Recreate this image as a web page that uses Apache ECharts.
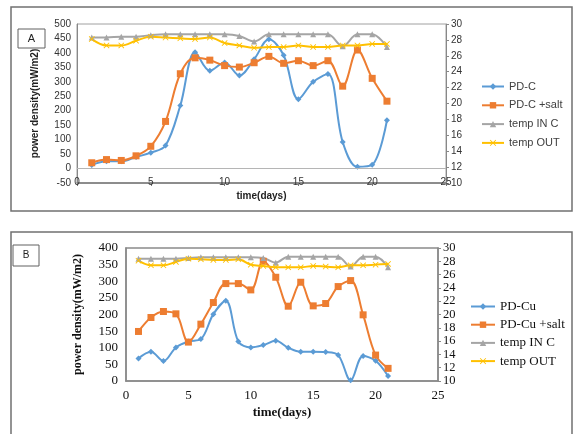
<!DOCTYPE html>
<html>
<head>
<meta charset="utf-8">
<script src="https://cdn.jsdelivr.net/npm/echarts@6/dist/echarts.min.js"></script>
<style>
html,body{margin:0;padding:0;background:#fff;}
#main{width:573px;height:434px;}
</style>
</head>
<body>
<div id="main"></div>
<script>
//数据
var days = [1,2,3,4,5,6,7,8,9,10,11,12,13,14,15,16,17,18,19,20,21];
// A
var pdC      = [12,25,25,40,55,80,218,402,338,367,322,378,447,392,240,300,327,92,6,13,167];
var pdCSalt  = [20,31,28,44,77,163,328,383,375,356,351,366,388,364,373,356,373,285,410,312,233];
var tempInA  = [28.3,28.3,28.4,28.4,28.6,28.7,28.7,28.7,28.7,28.7,28.5,27.8,28.7,28.7,28.7,28.7,28.7,27.2,28.7,28.7,27.1];
var tempOutA = [28.1,27.3,27.3,27.9,28.4,28.3,28.2,28.1,28.3,27.6,27.3,27.0,27.1,27.1,27.3,27.1,27.1,27.3,27.3,27.5,27.5];
// B
var pdCu     = [68,88,60,101,119,126,201,241,119,101,108,121,100,88,88,87,78,2,75,61,15];
var pdCuSalt = [149,191,209,202,117,171,236,293,293,274,360,312,225,297,226,233,284,302,199,78,38];
var tempInB  = [28.4,28.4,28.4,28.4,28.5,28.6,28.6,28.6,28.6,28.6,28.5,27.8,28.7,28.7,28.7,28.7,28.7,27.2,28.7,28.7,27.1];
var tempOutB = [28.1,27.4,27.4,27.9,28.4,28.3,28.2,28.2,28.3,27.5,27.3,27.1,27.1,27.1,27.3,27.2,27.1,27.4,27.4,27.5,27.6];

var namesA = ['PD-C','PD-C +salt','temp IN C','temp OUT'];
var namesB = ['PD-Cu','PD-Cu +salt','temp IN C','temp OUT'];

var colBlue = '#5B9BD5', colOrange = '#ED7D31', colGray = '#A5A5A5', colYellow = '#FFC000';
var crossSym = 'path://M0,1L1,0L5,4L9,0L10,1L6,5L10,9L9,10L5,6L1,10L0,9L4,5Z';
var sansFont = '"Liberation Sans", Arial, sans-serif';
var serifFont = '"Liberation Serif", "Times New Roman", serif';

function pairs(vals){
	var arr = [];
	for (var i = 0; i < days.length; i++){
		arr.push([days[i], vals[i]]);
	}
	return arr;
}

function mkSeries(name, vals, gridIdx, yIdx, color, symbol, size){
	return {
		name: name,
		type: 'line',
		xAxisIndex: gridIdx,
		yAxisIndex: yIdx,
		data: pairs(vals),
		smooth: 0.35,
		symbol: symbol,
		symbolSize: size,
		lineStyle: {color: color, width: 2},
		itemStyle: {color: color},
		z: 3
	};
}

var series = [
	mkSeries(namesA[0], pdC, 0, 0, colBlue, 'diamond', 6),
	mkSeries(namesA[1], pdCSalt, 0, 0, colOrange, 'rect', 7),
	mkSeries(namesA[2], tempInA, 0, 1, colGray, 'triangle', 6),
	mkSeries(namesA[3], tempOutA, 0, 1, colYellow, crossSym, 6),
	mkSeries(namesB[0], pdCu, 1, 2, colBlue, 'diamond', 6),
	mkSeries(namesB[1], pdCuSalt, 1, 2, colOrange, 'rect', 7),
	mkSeries(namesB[2], tempInB, 1, 3, colGray, 'triangle', 6),
	mkSeries(namesB[3], tempOutB, 1, 3, colYellow, crossSym, 6)
];
// A图的0刻度线
series[0].markLine = {
	silent: true,
	symbol: 'none',
	label: {show: false},
	lineStyle: {color: '#b5b5b5', width: 1, type: 'solid'},
	data: [{yAxis: 0}]
};

var myChart = echarts.init(document.getElementById('main'), null, {renderer: 'canvas'});
var option = {
	animation: false,
	backgroundColor: '#fff',
	graphic: [
		{type: 'rect', shape: {x: 11, y: 7, width: 561, height: 204}, style: {fill: 'none', stroke: '#707070', lineWidth: 1.5}},
		{type: 'rect', shape: {x: 11, y: 232, width: 561, height: 220}, style: {fill: 'none', stroke: '#707070', lineWidth: 1.5}},
		{type: 'rect', shape: {x: 18, y: 29, width: 27, height: 19}, style: {fill: '#fff', stroke: '#606060', lineWidth: 1}},
		{type: 'text', x: 31.5, y: 38.5, style: {text: 'A', font: '11px ' + sansFont, fill: '#222', align: 'center', verticalAlign: 'middle'}},
		{type: 'rect', shape: {x: 13, y: 245, width: 26, height: 21}, style: {fill: '#fff', stroke: '#606060', lineWidth: 1}},
		{type: 'text', x: 26, y: 255.5, style: {text: 'B', font: '10px ' + sansFont, fill: '#222', align: 'center', verticalAlign: 'middle'}}
	],
	legend: [
		{
			data: namesA, orient: 'vertical', left: 476, top: 76,
			itemWidth: 22, itemHeight: 8, itemGap: 7.8,
			textStyle: {fontFamily: sansFont, fontSize: 11, color: '#404040'}
		},
		{
			data: namesB, orient: 'vertical', left: 465, top: 295,
			itemWidth: 24, itemHeight: 8, itemGap: 5.2,
			textStyle: {fontFamily: serifFont, fontSize: 13, color: '#111'}
		}
	],
	grid: [
		{left: 77, top: 24, width: 369, height: 159, show: true, borderColor: '#a0a0a0', borderWidth: 1},
		{left: 126, top: 248, width: 312, height: 133, show: true, borderColor: '#8a8a8a', borderWidth: 1.5}
	],
	xAxis: [
		{
			gridIndex: 0, type: 'value', min: 0, max: 25, interval: 5,
			name: 'time(days)', nameLocation: 'middle', nameGap: 8,
			nameTextStyle: {fontFamily: sansFont, fontSize: 10, fontWeight: 'bold', color: '#222'},
			axisLine: {onZero: false, lineStyle: {color: '#777', width: 1.5}},
			axisTick: {show: true, inside: false, length: 3, lineStyle: {color: '#777'}},
			axisLabel: {margin: -6, fontFamily: sansFont, fontSize: 10, color: '#333'},
			splitLine: {show: false}
		},
		{
			gridIndex: 1, type: 'value', min: 0, max: 25, interval: 5,
			name: 'time(days)', nameLocation: 'middle', nameGap: 25,
			nameTextStyle: {fontFamily: serifFont, fontSize: 13, fontWeight: 'bold', color: '#111'},
			axisLine: {onZero: false, lineStyle: {color: '#8a8a8a', width: 1.5}},
			axisTick: {show: false},
			axisLabel: {margin: 8, fontFamily: serifFont, fontSize: 13, color: '#111'},
			splitLine: {show: false}
		}
	],
	yAxis: [
		{
			gridIndex: 0, type: 'value', min: -50, max: 500, interval: 50,
			name: 'power density(mW/m2)', nameLocation: 'middle', nameGap: 37,
			nameTextStyle: {fontFamily: sansFont, fontSize: 10, fontWeight: 'bold', color: '#222'},
			axisLine: {show: true, lineStyle: {color: '#888', width: 1}},
			axisTick: {show: false},
			axisLabel: {margin: 6, fontFamily: sansFont, fontSize: 10, color: '#333'},
			splitLine: {show: false}
		},
		{
			gridIndex: 0, type: 'value', min: 10, max: 30, interval: 2, position: 'right',
			axisLine: {show: true, lineStyle: {color: '#888', width: 1}},
			axisTick: {show: true, length: 3, lineStyle: {color: '#888'}},
			axisLabel: {margin: 5, fontFamily: sansFont, fontSize: 10, color: '#333'},
			splitLine: {show: false}
		},
		{
			gridIndex: 1, type: 'value', min: 0, max: 400, interval: 50,
			name: 'power density(mW/m2)', nameLocation: 'middle', nameGap: 42,
			nameTextStyle: {fontFamily: serifFont, fontSize: 12, fontWeight: 'bold', color: '#111'},
			axisLine: {show: true, lineStyle: {color: '#8a8a8a', width: 1.5}},
			axisTick: {show: false},
			axisLabel: {margin: 8, fontFamily: serifFont, fontSize: 13, color: '#111'},
			splitLine: {show: false}
		},
		{
			gridIndex: 1, type: 'value', min: 10, max: 30, interval: 2, position: 'right',
			axisLine: {show: true, lineStyle: {color: '#8a8a8a', width: 1.5}},
			axisTick: {show: true, length: 3, lineStyle: {color: '#8a8a8a'}},
			axisLabel: {margin: 5, fontFamily: serifFont, fontSize: 12.5, color: '#111'},
			splitLine: {show: false}
		}
	],
	series: series
};
myChart.setOption(option);
</script>
</body>
</html>
